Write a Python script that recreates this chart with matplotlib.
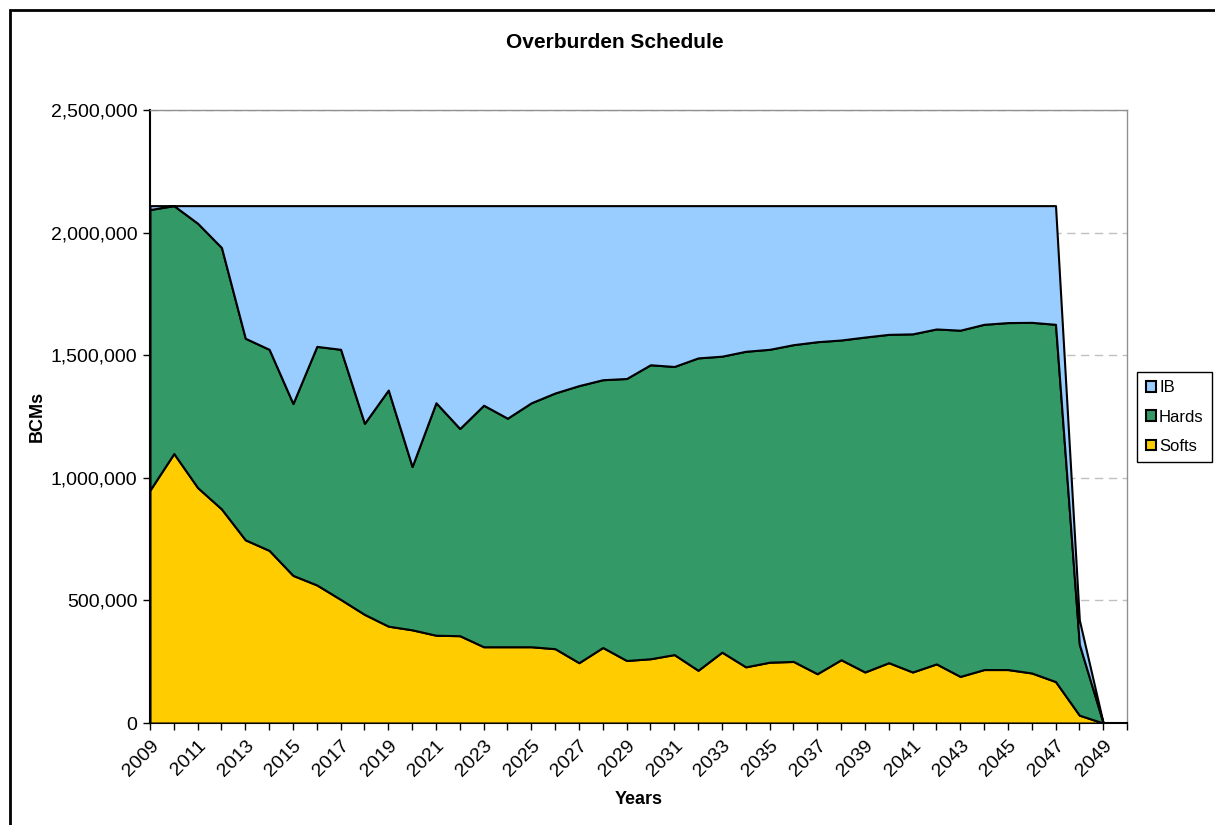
import numpy as np
import matplotlib
matplotlib.use("Agg")
import matplotlib.pyplot as plt
from matplotlib.patches import Rectangle
from matplotlib.ticker import FuncFormatter

plt.rcParams["font.family"] = ["Liberation Sans", "DejaVu Sans"]

years = list(range(2009, 2051))

softs = [950000, 1099000, 960000, 873000, 747000, 704000, 602000, 563000, 504000, 443000,
         395000, 380000, 358000, 356000, 311000, 311000, 311000, 303000, 246000, 308000,
         255000, 262000, 279000, 215000, 289000, 229000, 248000, 251000, 201000, 258000,
         208000, 246000, 208000, 241000, 190000, 218000, 218000, 204000, 169000, 32000,
         0, 0]
hards = [1144000, 1011000, 1078000, 1066000, 822000, 820000, 701000, 973000, 1020000, 779000,
         963000, 666000, 948000, 845000, 985000, 932000, 995000, 1043000, 1130000, 1092000,
         1150000, 1199000, 1175000, 1274000, 1207000, 1287000, 1276000, 1292000, 1354000, 1304000,
         1366000, 1339000, 1379000, 1366000, 1412000, 1408000, 1415000, 1430000, 1457000, 289000,
         0, 0]
ib = [16000, 0, 72000, 171000, 541000, 586000, 807000, 574000, 586000, 888000,
      752000, 1064000, 804000, 909000, 814000, 867000, 804000, 764000, 734000, 710000,
      705000, 649000, 656000, 621000, 614000, 594000, 586000, 567000, 555000, 548000,
      536000, 525000, 523000, 503000, 508000, 484000, 477000, 476000, 484000, 99000,
      0, 0]

series_names = ["Softs", "Hards", "IB"]
colors = ["#FFCC00", "#339966", "#99CCFF"]

fig = plt.figure(figsize=(12.15, 8.25), dpi=100)
ax = fig.add_axes([150 / 1215, 1 - 723 / 825, (1127 - 150) / 1215, (723 - 110) / 825])

x = np.arange(len(years))
polys = ax.stackplot(x, softs, hards, ib, colors=colors, labels=series_names,
                     edgecolor="black", linewidth=1.5, zorder=3)

ax.set_xlim(0, len(years) - 1)
ax.set_ylim(0, 2500000)
ax.set_yticks(np.arange(0, 2500001, 500000))
ax.yaxis.set_major_formatter(FuncFormatter(lambda v, p: f"{int(v):,}"))
ax.grid(axis="y", color="#c0c0c0", linestyle=(0, (6, 4)), linewidth=1, zorder=0)
ax.set_axisbelow(True)

ax.set_xticks(x)
ax.set_xticklabels([str(y) if (y - 2009) % 2 == 0 else "" for y in years],
                   rotation=45, ha="right", va="top", rotation_mode="anchor")
ax.tick_params(axis="both", direction="out", length=5, width=1, labelsize=14, colors="black")
ax.tick_params(axis="x", pad=5)
ax.tick_params(axis="y", pad=4)

for side in ["left", "bottom"]:
    ax.spines[side].set_color("black")
    ax.spines[side].set_linewidth(1.5)
for side in ["top", "right"]:
    ax.spines[side].set_color("#909090")
    ax.spines[side].set_linewidth(1)

ax.set_xlabel("Years", fontsize=13, fontweight="bold", labelpad=8)
ax.set_ylabel("BCMs", fontsize=13, fontweight="bold", labelpad=4)
fig.text(615 / 1215, 1 - 42 / 825, "Overburden Schedule", fontsize=15, fontweight="bold",
         ha="center", va="center")

handles, labels = ax.get_legend_handles_labels()
leg = fig.legend(handles[::-1], labels[::-1], loc="upper right",
                 bbox_to_anchor=(1212 / 1215, 1 - 372 / 825), fontsize=12,
                 fancybox=False, edgecolor="black", framealpha=1,
                 handlelength=0.6, handleheight=0.6, handletextpad=0.2,
                 borderpad=0.5, labelspacing=0.85, borderaxespad=0)
leg.get_frame().set_linewidth(1)

# outer chart border
fig.patches.append(Rectangle((10 / 1215, -0.1), 1.2, 1.1 - 10 / 825, transform=fig.transFigure,
                             fill=False, edgecolor="black", linewidth=2))

fig.savefig("out.png", dpi=100)
